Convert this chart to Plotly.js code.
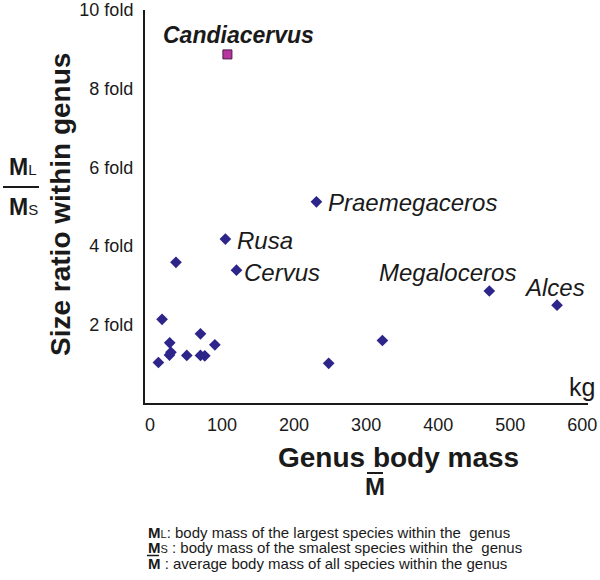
<!DOCTYPE html>
<html>
<head>
<meta charset="utf-8">
<script src="https://cdn.plot.ly/plotly-3.0.1.min.js"></script>
<style>html,body{margin:0;padding:0;background:#fff;}#chart{width:600px;height:580px;}</style>
</head>
<body>
<div id="chart"></div>
<script>
// ---- data ----
const genusMass = [231, 104.6, 36, 120, 16.7, 70, 27.3, 90, 29, 27, 51, 70, 76, 11.6, 248, 322.6, 471, 565];
const sizeRatio = [5.12, 4.17, 3.58, 3.38, 2.13, 1.76, 1.53, 1.48, 1.29, 1.22, 1.21, 1.21, 1.20, 1.03, 1.01, 1.59, 2.85, 2.49];
const genusNames = ["Praemegaceros", "Rusa", "", "Cervus", "", "", "", "", "", "", "", "", "", "", "", "", "Megaloceros", "Alces"];
const islandMass = [107.4];
const islandRatio = [8.87];
const islandNames = ["Candiacervus"];
const yTickVals = [2, 4, 6, 8, 10];
const yTickText = ["2 fold", "4 fold", "6 fold", "8 fold", "10 fold"];
const xTickVals = [0, 100, 200, 300, 400, 500, 600];
const xTickText = ["0", "100", "200", "300", "400", "500", "600"];

// ---- layout helpers (pixel -> paper) ----
const L = 145, T = 10, W = 443, H = 393;
const px = x => (x - L) / W;
const py = y => (T + H - y) / H;
const FONT = "Liberation Sans, Arial, sans-serif";

const labelStyle = {
  "Praemegaceros": {xanchor: "left", xshift: 10, yshift: -1},
  "Rusa": {xanchor: "left", xshift: 10, yshift: -1},
  "Cervus": {xanchor: "left", xshift: 6, yshift: -2},
  "Megaloceros": {xanchor: "center", xshift: -42, yshift: 19},
  "Alces": {xanchor: "center", xshift: -3, yshift: 18},
  "Candiacervus": {xanchor: "center", xshift: 11, yshift: 19}
};

const annotations = [];
genusNames.forEach((n, i) => {
  if (!n) return;
  const s = labelStyle[n];
  annotations.push({x: genusMass[i], y: sizeRatio[i], xref: "x", yref: "y", text: "<i>" + n + "</i>",
    showarrow: false, xanchor: s.xanchor, yanchor: "middle", xshift: s.xshift, yshift: s.yshift,
    font: {family: FONT, size: 24, color: "#1a1a1a"}});
});
islandNames.forEach((n, i) => {
  const s = labelStyle[n];
  annotations.push({x: islandMass[i], y: islandRatio[i], xref: "x", yref: "y", text: "<b><i>" + n + "</i></b>",
    showarrow: false, xanchor: s.xanchor, yanchor: "middle", xshift: s.xshift, yshift: s.yshift,
    font: {family: FONT, size: 23, color: "#1a1a1a"}});
});

// axis titles and notes
annotations.push(
  {xref: "paper", yref: "paper", x: px(60), y: py(205), text: "<b>Size ratio within genus</b>", textangle: -90,
   showarrow: false, xanchor: "center", yanchor: "middle", font: {family: FONT, size: 28, color: "#1a1a1a"}},
  {xref: "paper", yref: "paper", x: px(398), y: py(457), text: "<b>Genus body mass</b>",
   showarrow: false, xanchor: "center", yanchor: "middle", font: {family: FONT, size: 28, color: "#1a1a1a"}},
  {xref: "paper", yref: "paper", x: px(375), y: py(486), text: "<b>M</b>",
   showarrow: false, xanchor: "center", yanchor: "middle", font: {family: FONT, size: 24, color: "#1a1a1a"}},
  {xref: "paper", yref: "paper", x: px(597), y: py(387), text: "kg",
   showarrow: false, xanchor: "right", yanchor: "middle", font: {family: FONT, size: 25, color: "#1a1a1a"}},
  {xref: "paper", yref: "paper", x: px(7), y: py(167), text: "<b>M</b><span style='font-size:15px'>L</span>",
   showarrow: false, xanchor: "left", yanchor: "middle", font: {family: FONT, size: 23, color: "#1a1a1a"}},
  {xref: "paper", yref: "paper", x: px(7), y: py(207), text: "<b>M</b><span style='font-size:15px'>S</span>",
   showarrow: false, xanchor: "left", yanchor: "middle", font: {family: FONT, size: 23, color: "#1a1a1a"}},
  {xref: "paper", yref: "paper", x: px(146), y: py(532), text: "<b>M</b><span style='font-size:11px'>L</span>: body mass of the largest species within the  genus",
   showarrow: false, xanchor: "left", yanchor: "middle", font: {family: FONT, size: 15, color: "#1a1a1a"}},
  {xref: "paper", yref: "paper", x: px(146), y: py(547.5), text: "<b>M</b><span style='font-size:11px'>S</span> : body mass of the smalest species within the  genus",
   showarrow: false, xanchor: "left", yanchor: "middle", font: {family: FONT, size: 15, color: "#1a1a1a"}},
  {xref: "paper", yref: "paper", x: px(146), y: py(563), text: "<b>M</b> : average body mass of all species within the genus",
   showarrow: false, xanchor: "left", yanchor: "middle", font: {family: FONT, size: 15, color: "#1a1a1a"}}
);

const shapes = [
  {type: "line", xref: "paper", yref: "paper", x0: px(3), x1: px(39), y0: py(187), y1: py(187), line: {color: "#1a1a1a", width: 2}},
  {type: "line", xref: "paper", yref: "paper", x0: px(367), x1: px(383), y0: py(473), y1: py(473), line: {color: "#1a1a1a", width: 2}},
  {type: "line", xref: "paper", yref: "paper", x0: px(147), x1: px(159), y0: py(555.5), y1: py(555.5), line: {color: "#1a1a1a", width: 1.5}}
];

const traces = [
  {x: genusMass, y: sizeRatio, type: "scatter", mode: "markers", hoverinfo: "skip",
   marker: {symbol: "diamond", size: 9, color: "#2d2589", line: {width: 0}}},
  {x: islandMass, y: islandRatio, type: "scatter", mode: "markers", hoverinfo: "skip",
   marker: {symbol: "square", size: 9, color: "#b8359f", line: {width: 1, color: "#4a1a4a"}}}
];

const layout = {
  width: 600, height: 580,
  margin: {l: L, t: T, r: 600 - L - W, b: 580 - T - H, pad: 0},
  paper_bgcolor: "#fff", plot_bgcolor: "#fff",
  showlegend: false,
  font: {family: FONT, color: "#1a1a1a"},
  xaxis: {range: [-7, 608], showgrid: false, zeroline: false, showline: true, linecolor: "#1a1a1a", linewidth: 2,
          tickvals: xTickVals, ticktext: xTickText, ticks: "", tickfont: {family: FONT, size: 18, color: "#1a1a1a"},
          ticklabelstandoff: 4, fixedrange: true},
  yaxis: {range: [0, 10], showgrid: false, zeroline: false, showline: true, linecolor: "#1a1a1a", linewidth: 2,
          tickvals: yTickVals, ticktext: yTickText, ticks: "", tickfont: {family: FONT, size: 18, color: "#1a1a1a"},
          ticklabelstandoff: 6, fixedrange: true},
  annotations: annotations,
  shapes: shapes
};

Plotly.newPlot("chart", traces, layout, {staticPlot: true, displayModeBar: false});
</script>
</body>
</html>
